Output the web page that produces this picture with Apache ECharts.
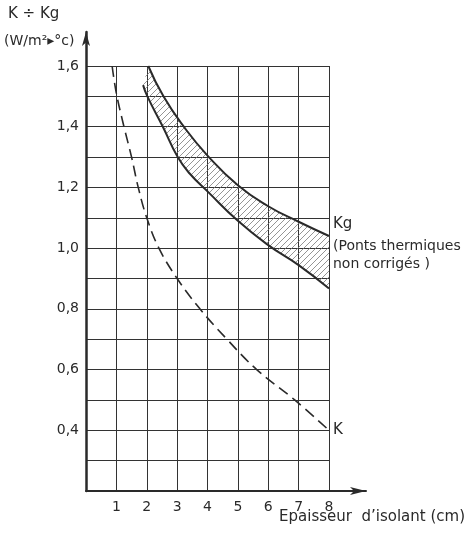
<!DOCTYPE html>
<html>
<head>
<meta charset="utf-8">
<script src="https://cdn.jsdelivr.net/npm/echarts@6/dist/echarts.min.js"></script>
<style>
  html, body { margin: 0; padding: 0; background: #fff; }
  #chart { width: 469px; height: 533px; }
</style>
</head>
<body>
<div id="chart"></div>
<script>
// K curve (dashed) : epaisseur (cm) -> W/m2.°C
const kThickness = [0.86, 1, 1.25, 1.5, 1.72, 2, 2.4, 3, 3.75, 4.64, 5.62, 6.87, 8]
const kValues = [1.6, 1.51, 1.4, 1.3, 1.2, 1.1, 1.0, 0.9, 0.8, 0.7, 0.6, 0.5, 0.4]

// Kg band, upper and lower limits
const kgUpperThickness = [2.05, 2.55, 3.22, 4, 5, 6, 7, 8]
const kgUpperValues = [1.6, 1.5, 1.4, 1.305, 1.207, 1.138, 1.087, 1.04]
const kgLowerThickness = [1.88, 2.02, 2.53, 3.02, 3.42, 4, 5, 6, 7, 8]
const kgLowerValues = [1.537, 1.5, 1.4, 1.3, 1.245, 1.187, 1.09, 1.01, 0.944, 0.867]

const pairs = (xs, ys) => xs.map((x, i) => [x, ys[i]])

const ink = '#2a2a2a'
const font = 'DejaVu Sans'

// hatch pattern for the Kg band
function hatch() {
  const c = document.createElement('canvas')
  c.width = 6
  c.height = 6
  const ctx = c.getContext('2d')
  ctx.strokeStyle = '#7a7a7a'
  ctx.lineWidth = 0.8
  ctx.beginPath()
  ctx.moveTo(0, 6); ctx.lineTo(6, 0)
  ctx.moveTo(-1, 1); ctx.lineTo(1, -1)
  ctx.moveTo(5, 7); ctx.lineTo(7, 5)
  ctx.stroke()
  return c
}
const hatchImg = hatch()

const chart = echarts.init(document.getElementById('chart'))

const options = {
  backgroundColor: '#fff',
  animation: false,
  grid: [
    { left: 86, right: 140, top: 66, bottom: 42 },
    { left: 86, right: 103, top: 32, bottom: 42 }
  ],
  xAxis: [{
    type: 'value',
    gridIndex: 0,
    min: 0,
    max: 8,
    interval: 1,
    axisLine: { show: false },
    axisTick: { show: false },
    axisLabel: {
      color: ink,
      fontFamily: font,
      fontSize: 14,
      margin: 9,
      formatter: v => (v === 0 ? '' : String(v))
    },
    splitLine: { show: true, lineStyle: { color: '#333', width: 1 } }
  }, {
    type: 'value',
    gridIndex: 1,
    min: 0,
    max: 1,
    axisLine: {
      show: true,
      symbol: ['none', 'arrow'],
      symbolSize: [6, 16],
      lineStyle: { color: ink, width: 2 }
    },
    axisTick: { show: false },
    axisLabel: { show: false },
    splitLine: { show: false }
  }],
  yAxis: [{
    type: 'value',
    gridIndex: 0,
    min: 0.2,
    max: 1.6,
    interval: 0.2,
    axisLine: { show: false },
    axisTick: { show: false },
    minorTick: { show: false, splitNumber: 2 },
    minorSplitLine: { show: true, lineStyle: { color: '#333', width: 1 } },
    axisLabel: {
      color: ink,
      fontFamily: font,
      fontSize: 14,
      margin: 7,
      formatter: v => (v < 0.3 ? '' : v.toFixed(1).replace('.', ','))
    },
    splitLine: { show: true, lineStyle: { color: '#333', width: 1 } }
  }, {
    type: 'value',
    gridIndex: 1,
    min: 0,
    max: 1,
    axisLine: {
      show: true,
      symbol: ['none', 'arrow'],
      symbolSize: [6, 14],
      lineStyle: { color: ink, width: 2.5 }
    },
    axisTick: { show: false },
    axisLabel: { show: false },
    splitLine: { show: false }
  }],
  series: [{
    name: 'Kg band',
    type: 'custom',
    xAxisIndex: 0,
    yAxisIndex: 0,
    clip: true,
    z: 1,
    data: [0],
    renderItem: (params, api) => {
      const top = pairs(kgUpperThickness, kgUpperValues).map(p => api.coord(p))
      const bottom = pairs(kgLowerThickness, kgLowerValues).map(p => api.coord(p)).reverse()
      return {
        type: 'polygon',
        shape: { points: top.concat(bottom) },
        style: { fill: { image: hatchImg, repeat: 'repeat' }, stroke: 'none' }
      }
    }
  }, {
    name: 'Kg max',
    type: 'line',
    data: pairs(kgUpperThickness, kgUpperValues),
    smooth: 0.5,
    symbol: 'none',
    z: 3,
    lineStyle: { color: ink, width: 2 }
  }, {
    name: 'Kg min',
    type: 'line',
    data: pairs(kgLowerThickness, kgLowerValues),
    smooth: 0.5,
    symbol: 'none',
    z: 3,
    lineStyle: { color: ink, width: 2 }
  }, {
    name: 'K',
    type: 'line',
    data: pairs(kThickness, kValues),
    smooth: 0.4,
    symbol: 'none',
    z: 3,
    lineStyle: { color: ink, width: 1.6, type: [11, 6] },
    endLabel: {
      show: true,
      formatter: 'K',
      color: ink,
      fontFamily: font,
      fontSize: 15,
      distance: 4
    }
  }],
  graphic: [
    { type: 'text', left: 8, top: 7, style: { text: 'K ÷ Kg', fill: ink, font: '15px "DejaVu Sans"' } },
    { type: 'text', left: 4, top: 34, style: { text: '(W/m²▸°c)', fill: ink, font: '14px "DejaVu Sans"' } },
    { type: 'text', left: 333, top: 217, style: { text: 'Kg', fill: ink, font: '15px "DejaVu Sans"' } },
    { type: 'text', left: 333, top: 237, style: { text: '(Ponts thermiques\nnon corrigés )', fill: ink, font: '14px "DejaVu Sans"', lineHeight: 18 } },
    { type: 'text', right: 4, top: 510, style: { text: 'Epaisseur  d’isolant (cm)', fill: ink, font: '15px "DejaVu Sans"' } }
  ]
}

chart.setOption(options)
</script>
</body>
</html>
